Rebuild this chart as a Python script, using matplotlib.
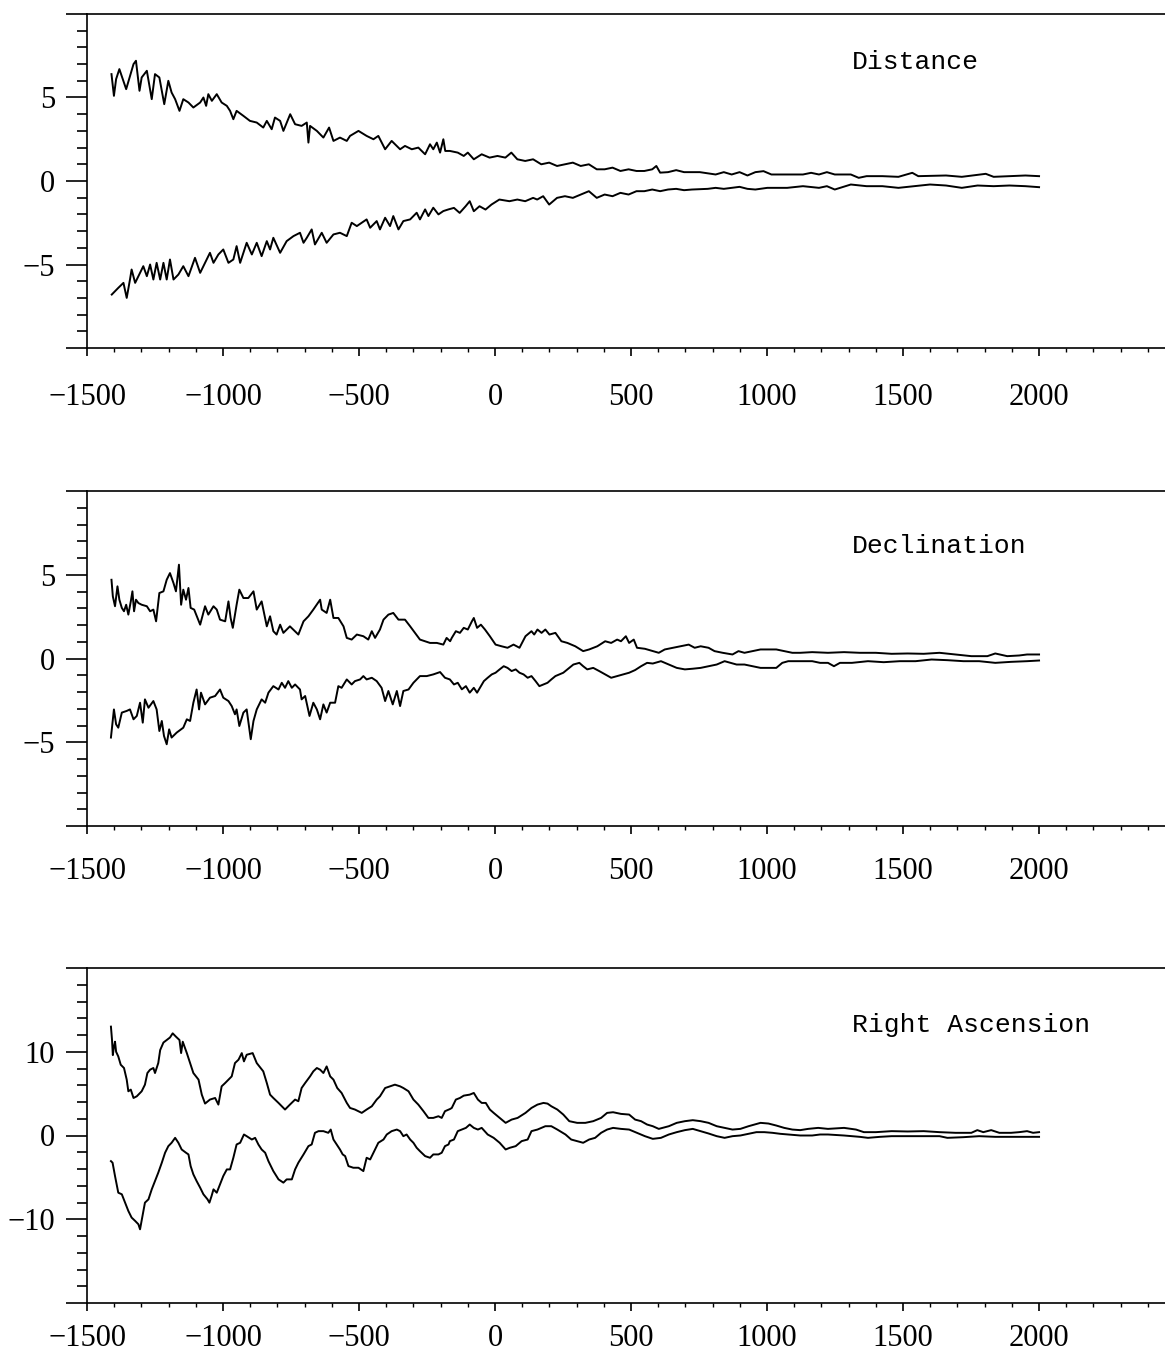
import numpy as np
import matplotlib
matplotlib.use("Agg")
import matplotlib.pyplot as plt
from matplotlib.ticker import MultipleLocator, FixedLocator, FuncFormatter

# (year, value) pairs
dist_upper = [(-1410, 6.4), (-1401, 5.1), (-1393, 6.1), (-1381, 6.7), (-1356, 5.5), (-1329, 7.0), (-1320, 7.2),
              (-1307, 5.4), (-1299, 6.2), (-1280, 6.6), (-1262, 4.9), (-1250, 6.4), (-1234, 6.2), (-1216, 4.6),
              (-1201, 6.0), (-1189, 5.3), (-1176, 4.9), (-1160, 4.2), (-1146, 4.9), (-1127, 4.7), (-1109, 4.4),
              (-1084, 4.7), (-1072, 5.0), (-1062, 4.5), (-1054, 5.2), (-1041, 4.8), (-1023, 5.2), (-1005, 4.7),
              (-986, 4.5), (-974, 4.2), (-962, 3.7), (-950, 4.2), (-925, 3.9), (-901, 3.6), (-876, 3.5),
              (-852, 3.2), (-839, 3.6), (-821, 3.1), (-809, 3.8), (-790, 3.6), (-778, 3.0), (-753, 4.0),
              (-735, 3.4), (-711, 3.3), (-692, 3.5), (-686, 2.3), (-680, 3.3), (-655, 3.0), (-631, 2.6),
              (-610, 3.2), (-594, 2.4), (-570, 2.6), (-545, 2.4), (-533, 2.7), (-502, 3.0), (-472, 2.7),
              (-447, 2.5), (-429, 2.7), (-404, 1.9), (-380, 2.4), (-349, 1.9), (-331, 2.1), (-306, 1.9),
              (-282, 2.0), (-257, 1.6), (-239, 2.2), (-227, 1.9), (-214, 2.3), (-202, 1.7), (-190, 2.5),
              (-183, 1.8), (-166, 1.8), (-137, 1.7), (-115, 1.5), (-100, 1.7), (-78, 1.3), (-49, 1.6),
              (-20, 1.4), (9, 1.5), (38, 1.4), (60, 1.7), (82, 1.3), (111, 1.2), (140, 1.3), (170, 1.0),
              (199, 1.1), (228, 0.9), (257, 1.0), (286, 1.1), (315, 0.9), (345, 1.0), (374, 0.7), (403, 0.7),
              (432, 0.8), (461, 0.6), (491, 0.7), (520, 0.6), (549, 0.6), (578, 0.7), (593, 0.9), (607, 0.5),
              (636, 0.53), (666, 0.65), (695, 0.53), (753, 0.53), (811, 0.39), (841, 0.53), (870, 0.39),
              (899, 0.53), (928, 0.33), (957, 0.53), (987, 0.59), (1016, 0.39), (1074, 0.39), (1132, 0.39),
              (1162, 0.49), (1191, 0.39), (1220, 0.53), (1249, 0.39), (1308, 0.39), (1337, 0.19), (1366, 0.29),
              (1424, 0.29), (1483, 0.25), (1534, 0.49), (1556, 0.29), (1658, 0.33), (1716, 0.25), (1804, 0.43),
              (1833, 0.25), (1891, 0.29), (1950, 0.33), (2000, 0.29)]

dist_lower = [(-1409, -6.8), (-1385, -6.4), (-1366, -6.1), (-1354, -7.0), (-1342, -5.9), (-1336, -5.3),
              (-1323, -6.1), (-1311, -5.7), (-1293, -5.1), (-1280, -5.7), (-1268, -5.0), (-1256, -5.9),
              (-1244, -4.9), (-1231, -5.9), (-1219, -4.9), (-1207, -5.9), (-1195, -4.7), (-1182, -5.9),
              (-1164, -5.6), (-1146, -5.1), (-1127, -5.7), (-1103, -4.6), (-1084, -5.5), (-1066, -4.9),
              (-1048, -4.3), (-1035, -4.9), (-1017, -4.4), (-999, -4.1), (-980, -4.9), (-962, -4.7),
              (-950, -3.9), (-937, -4.9), (-913, -3.7), (-894, -4.4), (-876, -3.7), (-858, -4.5),
              (-839, -3.6), (-827, -4.1), (-815, -3.4), (-790, -4.3), (-766, -3.6), (-741, -3.3),
              (-717, -3.1), (-704, -3.7), (-692, -3.4), (-674, -2.9), (-662, -3.8), (-637, -3.1),
              (-619, -3.7), (-594, -3.2), (-570, -3.1), (-545, -3.3), (-527, -2.5), (-508, -2.7),
              (-490, -2.5), (-472, -2.3), (-459, -2.8), (-435, -2.4), (-423, -2.9), (-404, -2.2),
              (-386, -2.7), (-374, -2.1), (-355, -2.9), (-337, -2.4), (-312, -2.3), (-288, -1.9),
              (-276, -2.3), (-257, -1.7), (-245, -2.1), (-227, -1.6), (-208, -2.0), (-190, -1.8),
              (-171, -1.7), (-151, -1.61), (-130, -1.91), (-108, -1.51), (-93, -1.21), (-78, -1.81),
              (-57, -1.51), (-35, -1.71), (-13, -1.41), (16, -1.11), (53, -1.21), (82, -1.11), (111, -1.21),
              (140, -1.01), (155, -1.11), (177, -0.91), (199, -1.41), (228, -1.01), (257, -0.91), (286, -1.01),
              (315, -0.81), (345, -0.61), (374, -1.01), (403, -0.81), (432, -0.91), (461, -0.71), (491, -0.81),
              (520, -0.61), (549, -0.61), (578, -0.51), (607, -0.61), (636, -0.51), (666, -0.47), (695, -0.55),
              (724, -0.51), (782, -0.47), (811, -0.41), (841, -0.47), (870, -0.41), (899, -0.35), (928, -0.47),
              (957, -0.51), (1001, -0.41), (1074, -0.41), (1132, -0.31), (1191, -0.41), (1220, -0.31),
              (1249, -0.51), (1308, -0.21), (1366, -0.31), (1424, -0.31), (1483, -0.41), (1541, -0.31),
              (1599, -0.21), (1658, -0.27), (1716, -0.41), (1774, -0.27), (1833, -0.31), (1891, -0.27),
              (1950, -0.31), (2000, -0.37)]

decl_upper = [(-1410, 4.70), (-1405, 3.71), (-1397, 3.12), (-1388, 4.31), (-1381, 3.51), (-1372, 3.02),
              (-1364, 2.82), (-1356, 3.21), (-1348, 2.62), (-1339, 3.41), (-1333, 4.01), (-1327, 2.82),
              (-1320, 3.51), (-1311, 3.31), (-1299, 3.21), (-1280, 3.12), (-1268, 2.82), (-1256, 2.92),
              (-1246, 2.22), (-1234, 3.91), (-1219, 4.01), (-1207, 4.70), (-1195, 5.10), (-1182, 4.50),
              (-1173, 4.01), (-1162, 5.60), (-1154, 3.21), (-1146, 4.11), (-1136, 3.51), (-1127, 4.21),
              (-1119, 3.02), (-1106, 2.92), (-1084, 2.02), (-1066, 3.12), (-1054, 2.62), (-1035, 3.12),
              (-1023, 2.92), (-1011, 2.32), (-992, 2.22), (-980, 3.41), (-972, 2.42), (-964, 1.83),
              (-950, 3.21), (-940, 4.11), (-925, 3.61), (-907, 3.61), (-888, 4.01), (-876, 2.92),
              (-858, 3.41), (-839, 1.92), (-827, 2.52), (-815, 1.63), (-803, 1.43), (-790, 2.02),
              (-778, 1.53), (-754, 1.92), (-723, 1.43), (-704, 2.22), (-686, 2.52), (-668, 2.92),
              (-643, 3.51), (-637, 2.92), (-619, 2.72), (-606, 3.51), (-594, 2.42), (-576, 2.42),
              (-557, 1.92), (-545, 1.23), (-527, 1.13), (-508, 1.43), (-484, 1.33), (-466, 1.13),
              (-453, 1.63), (-441, 1.23), (-423, 1.73), (-410, 2.32), (-392, 2.62), (-374, 2.72),
              (-355, 2.32), (-331, 2.32), (-312, 1.92), (-294, 1.53), (-276, 1.13), (-257, 1.03),
              (-239, 0.93), (-214, 0.93), (-190, 0.83), (-178, 1.23), (-165, 1.03), (-159, 1.23),
              (-144, 1.63), (-129, 1.53), (-115, 1.83), (-100, 1.73), (-85, 2.22), (-78, 2.42), (-66, 1.83),
              (-52, 2.02), (-37, 1.73), (-19, 1.33), (2, 0.83), (24, 0.73), (46, 0.64), (68, 0.83), (90, 0.64),
              (112, 1.33), (134, 1.63), (144, 1.43), (156, 1.73), (171, 1.53), (185, 1.73), (200, 1.43),
              (222, 1.53), (244, 1.03), (266, 0.93), (295, 0.73), (324, 0.44), (346, 0.54), (376, 0.73),
              (405, 1.03), (427, 0.93), (449, 1.13), (463, 1.03), (481, 1.33), (493, 0.93), (510, 1.13),
              (522, 0.64), (551, 0.58), (580, 0.44), (602, 0.34), (624, 0.54), (654, 0.64), (683, 0.73),
              (712, 0.83), (734, 0.64), (756, 0.73), (785, 0.64), (807, 0.44), (837, 0.34), (873, 0.24),
              (895, 0.44), (917, 0.34), (946, 0.44), (976, 0.54), (1005, 0.54), (1034, 0.54), (1063, 0.44),
              (1093, 0.34), (1122, 0.34), (1166, 0.38), (1224, 0.34), (1283, 0.38), (1341, 0.34), (1400, 0.34),
              (1458, 0.28), (1517, 0.30), (1576, 0.28), (1634, 0.34), (1693, 0.24), (1751, 0.14), (1810, 0.14),
              (1839, 0.30), (1883, 0.14), (1927, 0.18), (1956, 0.24), (2000, 0.24)]

decl_lower = [(-1412, -4.72), (-1406, -3.83), (-1401, -3.04), (-1393, -3.93), (-1385, -4.13), (-1372, -3.23),
              (-1354, -3.13), (-1342, -3.04), (-1329, -3.63), (-1317, -3.43), (-1305, -2.64), (-1295, -3.83),
              (-1287, -2.44), (-1274, -2.94), (-1256, -2.54), (-1244, -3.04), (-1234, -4.33), (-1225, -3.73),
              (-1217, -4.62), (-1207, -5.12), (-1198, -4.23), (-1189, -4.72), (-1170, -4.42), (-1146, -4.13),
              (-1133, -3.63), (-1121, -3.73), (-1109, -2.64), (-1097, -1.85), (-1088, -3.04), (-1081, -2.04),
              (-1066, -2.74), (-1048, -2.34), (-1029, -2.24), (-1011, -1.85), (-999, -2.34), (-980, -2.54),
              (-968, -2.84), (-956, -3.33), (-950, -3.04), (-940, -4.03), (-925, -3.23), (-913, -3.04),
              (-898, -4.82), (-888, -3.73), (-876, -3.04), (-858, -2.44), (-845, -2.64), (-833, -2.04),
              (-815, -1.65), (-796, -1.85), (-784, -1.45), (-772, -1.75), (-760, -1.35), (-747, -1.75),
              (-735, -1.55), (-717, -1.85), (-711, -2.44), (-698, -2.24), (-682, -3.43), (-668, -2.64),
              (-655, -3.04), (-643, -3.63), (-631, -2.74), (-619, -3.23), (-606, -2.64), (-588, -2.64),
              (-576, -1.65), (-564, -1.75), (-545, -1.25), (-527, -1.55), (-515, -1.35), (-496, -1.25),
              (-484, -1.05), (-472, -1.25), (-453, -1.15), (-435, -1.35), (-417, -1.75), (-404, -2.54),
              (-392, -1.94), (-376, -2.74), (-361, -1.94), (-349, -2.84), (-337, -1.94), (-318, -1.85),
              (-300, -1.45), (-276, -1.05), (-251, -1.05), (-227, -0.95), (-202, -0.81), (-184, -1.15),
              (-166, -1.25), (-151, -1.55), (-137, -1.45), (-122, -1.84), (-107, -1.65), (-93, -2.04),
              (-78, -1.75), (-66, -2.04), (-52, -1.65), (-41, -1.35), (-27, -1.15), (-12, -0.95), (2, -0.85),
              (17, -0.65), (32, -0.46), (46, -0.56), (61, -0.75), (76, -0.65), (90, -0.85), (105, -0.95),
              (120, -1.15), (134, -1.05), (149, -1.35), (163, -1.65), (178, -1.55), (193, -1.45), (207, -1.25),
              (222, -1.05), (237, -0.95), (251, -0.85), (273, -0.56), (288, -0.36), (310, -0.26), (324, -0.46),
              (339, -0.65), (361, -0.56), (383, -0.75), (405, -0.95), (427, -1.15), (449, -1.05), (471, -0.95),
              (493, -0.85), (515, -0.69), (537, -0.46), (559, -0.26), (580, -0.30), (610, -0.16), (639, -0.36),
              (668, -0.56), (698, -0.65), (727, -0.61), (756, -0.56), (785, -0.46), (815, -0.36), (844, -0.16),
              (866, -0.26), (888, -0.36), (917, -0.36), (946, -0.46), (976, -0.56), (1005, -0.56), (1034, -0.56),
              (1056, -0.26), (1078, -0.16), (1107, -0.16), (1137, -0.16), (1166, -0.16), (1195, -0.26),
              (1224, -0.26), (1246, -0.46), (1268, -0.26), (1312, -0.26), (1371, -0.16), (1429, -0.22),
              (1488, -0.16), (1546, -0.16), (1605, -0.06), (1663, -0.10), (1722, -0.16), (1780, -0.16),
              (1839, -0.26), (1897, -0.20), (1956, -0.16), (2000, -0.12)]

ra_upper = [(-1412, 13.0), (-1408, 11.4), (-1405, 9.6), (-1401, 10.6), (-1397, 11.2), (-1393, 10.0),
            (-1385, 9.44), (-1376, 8.45), (-1364, 8.06), (-1354, 6.67), (-1348, 5.28), (-1339, 5.48),
            (-1329, 4.48), (-1317, 4.68), (-1299, 5.28), (-1287, 6.07), (-1278, 7.46), (-1268, 7.86),
            (-1256, 8.06), (-1250, 7.46), (-1238, 8.65), (-1231, 10.2), (-1219, 11.1), (-1207, 11.4),
            (-1195, 11.7), (-1185, 12.2), (-1173, 11.8), (-1160, 11.4), (-1154, 9.84), (-1148, 11.2),
            (-1133, 9.84), (-1121, 8.65), (-1109, 7.46), (-1090, 6.67), (-1078, 4.88), (-1066, 3.81),
            (-1048, 4.29), (-1029, 4.48), (-1017, 3.69), (-1005, 5.87), (-992, 6.27), (-980, 6.67),
            (-968, 7.06), (-956, 8.65), (-943, 9.05), (-931, 9.84), (-923, 8.85), (-913, 9.64),
            (-891, 9.84), (-876, 8.65), (-852, 7.66), (-839, 6.27), (-827, 4.88), (-815, 4.48),
            (-796, 3.89), (-772, 3.10), (-754, 3.69), (-735, 4.29), (-723, 4.09), (-711, 5.67),
            (-698, 6.27), (-680, 7.06), (-668, 7.66), (-655, 8.06), (-643, 7.86), (-631, 7.46),
            (-619, 8.25), (-606, 7.06), (-594, 6.67), (-580, 5.67), (-564, 5.08), (-545, 3.89),
            (-533, 3.29), (-515, 3.10), (-490, 2.70), (-472, 3.10), (-453, 3.49), (-435, 4.29),
            (-423, 4.68), (-404, 5.67), (-386, 5.87), (-368, 6.07), (-349, 5.87), (-337, 5.67),
            (-318, 5.28), (-300, 4.29), (-282, 3.69), (-263, 2.90), (-245, 2.10), (-227, 2.10),
            (-208, 2.30), (-196, 2.10), (-184, 2.90), (-165, 3.17), (-159, 3.29), (-144, 4.29),
            (-129, 4.48), (-115, 4.76), (-93, 4.88), (-78, 5.08), (-63, 4.29), (-49, 3.89), (-34, 3.89),
            (-19, 3.10), (-5, 2.70), (17, 2.10), (39, 1.51), (61, 1.90), (83, 2.10), (112, 2.70), (134, 3.29),
            (156, 3.69), (178, 3.89), (193, 3.81), (207, 3.49), (229, 3.10), (251, 2.50), (273, 1.71),
            (302, 1.51), (332, 1.51), (361, 1.71), (390, 2.10), (412, 2.70), (434, 2.78), (463, 2.58),
            (493, 2.50), (515, 1.90), (537, 1.71), (559, 1.31), (580, 1.11), (602, 0.79), (639, 1.11),
            (668, 1.51), (698, 1.71), (727, 1.83), (756, 1.71), (785, 1.51), (815, 1.11), (844, 0.91),
            (873, 0.71), (902, 0.79), (932, 1.11), (954, 1.31), (976, 1.51), (1005, 1.43), (1034, 1.19),
            (1063, 0.91), (1093, 0.71), (1122, 0.64), (1151, 0.79), (1188, 0.91), (1224, 0.79), (1283, 0.91),
            (1327, 0.71), (1356, 0.40), (1400, 0.40), (1458, 0.52), (1517, 0.48), (1576, 0.52), (1634, 0.40),
            (1693, 0.32), (1751, 0.32), (1773, 0.64), (1795, 0.40), (1824, 0.64), (1854, 0.32), (1897, 0.32),
            (1927, 0.40), (1956, 0.52), (1978, 0.32), (2000, 0.40)]

ra_lower = [(-1412, -3.06), (-1406, -3.25), (-1397, -4.84), (-1385, -6.83), (-1372, -7.02), (-1360, -8.02),
            (-1348, -9.01), (-1336, -9.80), (-1323, -10.2), (-1311, -10.6), (-1305, -11.2), (-1295, -9.40),
            (-1287, -8.02), (-1274, -7.62), (-1262, -6.43), (-1250, -5.44), (-1238, -4.44), (-1225, -3.25),
            (-1213, -2.06), (-1201, -1.27), (-1189, -0.87), (-1176, -0.28), (-1164, -0.87), (-1152, -1.67),
            (-1136, -2.06), (-1127, -2.26), (-1119, -3.65), (-1109, -4.64), (-1097, -5.44), (-1084, -6.23),
            (-1072, -7.02), (-1057, -7.62), (-1050, -8.02), (-1042, -7.22), (-1035, -6.43), (-1023, -6.83),
            (-1011, -5.83), (-999, -4.84), (-986, -4.05), (-974, -4.05), (-962, -2.66), (-950, -1.07),
            (-937, -0.87), (-923, 0.12), (-913, -0.08), (-894, -0.48), (-882, -0.28), (-870, -1.07),
            (-858, -1.67), (-845, -2.06), (-833, -3.06), (-815, -4.25), (-796, -5.24), (-778, -5.63),
            (-766, -5.24), (-747, -5.24), (-735, -4.05), (-723, -3.25), (-704, -2.26), (-686, -1.27),
            (-674, -1.07), (-662, 0.32), (-649, 0.52), (-631, 0.52), (-613, 0.32), (-604, 0.71),
            (-594, -0.48), (-582, -1.07), (-570, -1.67), (-560, -2.26), (-551, -2.46), (-539, -3.65),
            (-521, -3.85), (-502, -3.85), (-484, -4.25), (-472, -2.66), (-459, -2.86), (-441, -1.67),
            (-429, -0.87), (-410, -0.48), (-398, 0.12), (-380, 0.52), (-361, 0.71), (-349, 0.52),
            (-337, -0.08), (-325, 0.12), (-312, -0.48), (-300, -0.87), (-288, -1.47), (-276, -1.87),
            (-257, -2.46), (-239, -2.66), (-227, -2.26), (-208, -2.26), (-196, -2.06), (-184, -1.27),
            (-171, -1.07), (-166, -0.67), (-151, -0.48), (-137, 0.52), (-122, 0.71), (-107, 0.91),
            (-93, 1.31), (-78, 0.91), (-63, 0.71), (-49, 0.91), (-27, 0.12), (-5, -0.28), (17, -0.87),
            (39, -1.67), (54, -1.47), (76, -1.27), (98, -0.67), (120, -0.48), (134, 0.52), (156, 0.71),
            (185, 1.11), (207, 1.11), (229, 0.71), (259, 0.12), (280, -0.48), (302, -0.67), (324, -0.87),
            (346, -0.48), (368, -0.28), (390, 0.32), (412, 0.71), (434, 0.91), (463, 0.79), (493, 0.71),
            (522, 0.32), (551, -0.08), (580, -0.40), (610, -0.28), (639, 0.12), (668, 0.40), (698, 0.64),
            (727, 0.79), (756, 0.52), (785, 0.24), (815, -0.08), (844, -0.28), (873, -0.08), (902, 0.00),
            (932, 0.20), (961, 0.40), (990, 0.40), (1020, 0.32), (1049, 0.20), (1078, 0.12), (1122, 0.00),
            (1166, 0.00), (1195, 0.12), (1224, 0.12), (1283, 0.00), (1341, -0.16), (1371, -0.28),
            (1415, -0.16), (1458, -0.08), (1517, -0.08), (1576, -0.08), (1634, -0.08), (1663, -0.28),
            (1722, -0.20), (1780, -0.08), (1839, -0.16), (1897, -0.16), (1956, -0.16), (2000, -0.16)]

panel_titles = ["Distance", "Declination", "Right Ascension"]
panel_ylims = [10, 10, 20]
panel_curves = [(dist_upper, dist_lower), (decl_upper, decl_lower), (ra_upper, ra_lower)]

W, H = 1165, 1355
fig = plt.figure(figsize=(W / 100, H / 100), dpi=100)

# axes boxes in pixel terms (top, bottom), left spine at x=87
boxes = [(14, 348), (491, 826), (968, 1303)]
xpads = [19, 16, 9]
title_y = [0.856, 0.836, 0.830]
left = 87 / W

for i in range(3):
    top, bot = boxes[i]
    ax = fig.add_axes([left, 1 - bot / H, 1 - left, (bot - top) / H])
    for curve in panel_curves[i]:
        xs, ys = np.array(curve).T
        ax.plot(xs, ys, color='black', lw=1.4)
    lim = panel_ylims[i]
    ax.set_xlim(-1500, 2463)
    ax.set_ylim(-lim, lim)

    ax.xaxis.set_major_locator(MultipleLocator(500))
    ax.xaxis.set_minor_locator(MultipleLocator(100))
    ax.yaxis.set_major_locator(FixedLocator([-lim, -lim / 2, 0, lim / 2, lim]))
    ax.yaxis.set_minor_locator(MultipleLocator(lim / 10))
    ax.yaxis.set_major_formatter(FuncFormatter(
        lambda v, p, lim=lim: '' if abs(v) == lim else ('%d' % v).replace('-', '\u2212')))
    ax.xaxis.set_major_formatter(FuncFormatter(lambda v, p: ('%d' % v).replace('-', '\u2212')))

    ax.spines['right'].set_visible(False)
    for s in ['left', 'top', 'bottom']:
        ax.spines[s].set_linewidth(1.2)
    ax.tick_params(axis='y', which='major', direction='out', length=15, width=1.2, pad=8,
                   labelsize=22)
    ax.tick_params(axis='y', which='minor', direction='out', length=7, width=1.2)
    ax.tick_params(axis='x', which='major', direction='out', length=6, width=1.2, pad=xpads[i],
                   labelsize=22)
    ax.tick_params(axis='x', which='minor', direction='out', length=3.2, width=1.0)
    for lab in ax.get_xticklabels() + ax.get_yticklabels():
        lab.set_fontfamily('Liberation Serif')

    ax.text((852 - 87) / (W - 87), title_y[i], panel_titles[i], transform=ax.transAxes,
            ha='left', va='center', fontsize=19, family='Liberation Mono')

fig.savefig('out.png', dpi=100)
